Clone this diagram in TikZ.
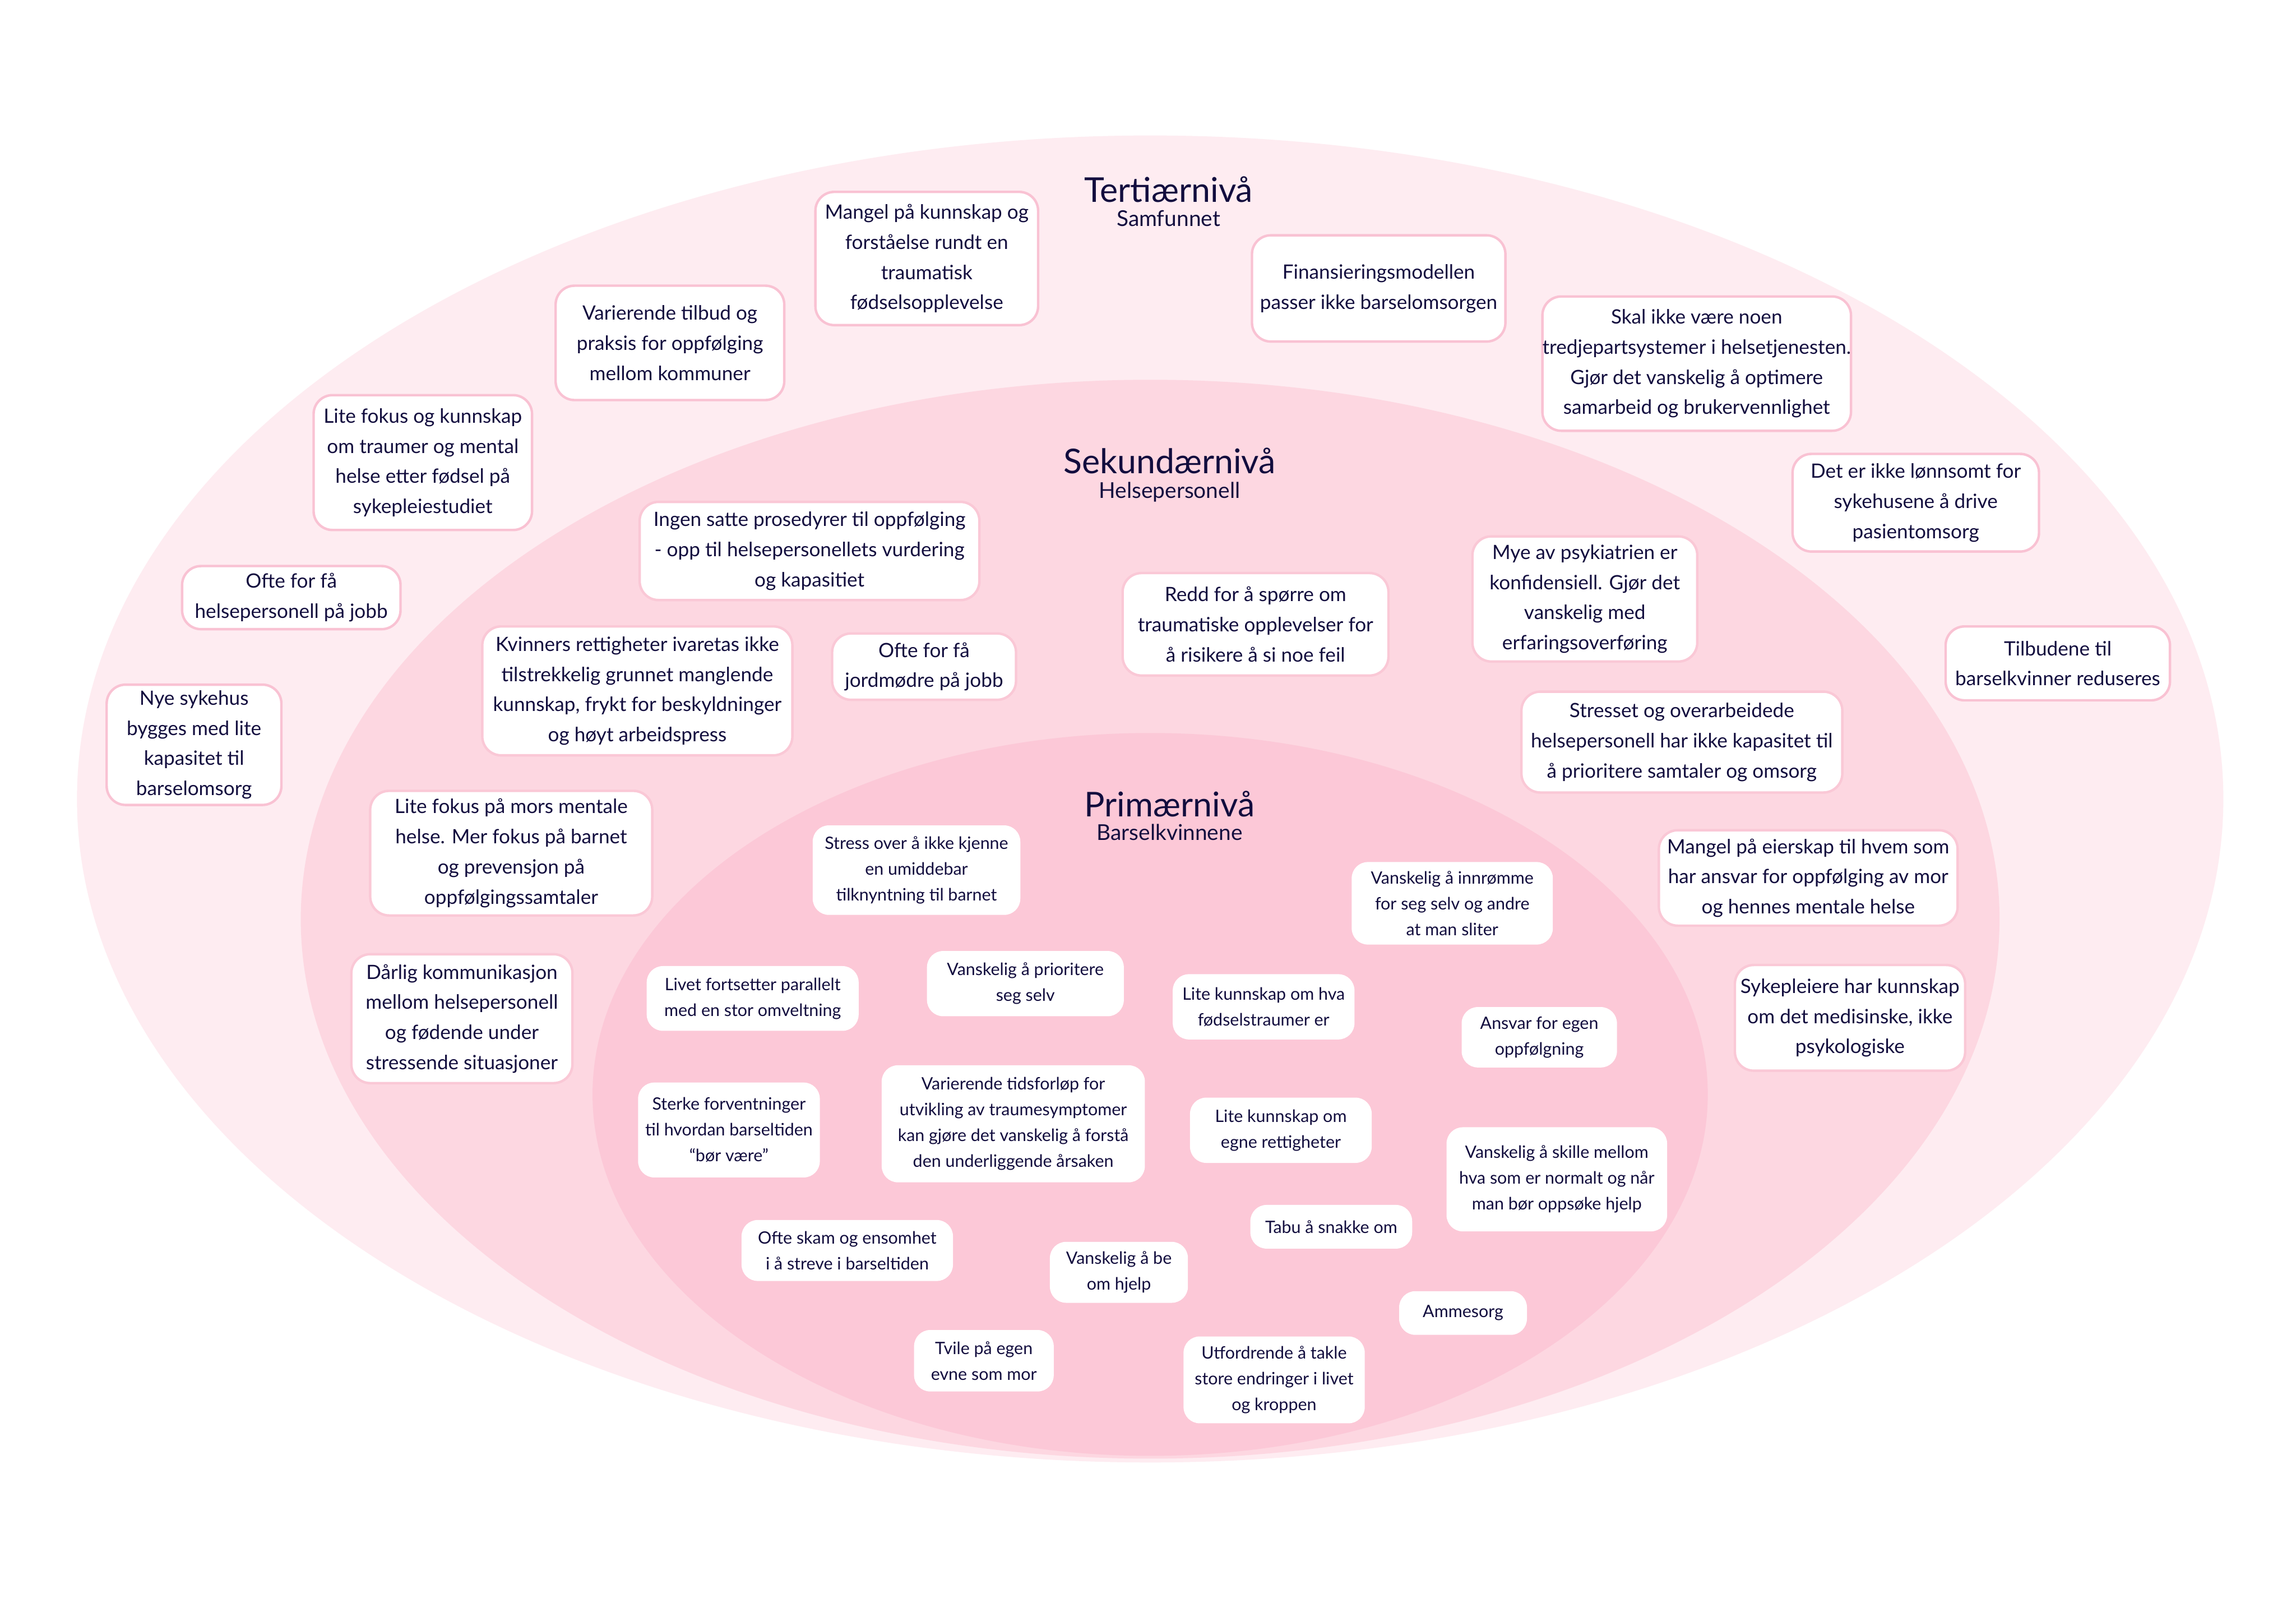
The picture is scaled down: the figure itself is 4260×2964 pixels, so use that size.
\documentclass[tikz,border=0pt]{standalone}
\usepackage{fontspec}
\setmainfont{Lato}
\definecolor{outerc}{RGB}{254,236,241}
\definecolor{secc}{RGB}{253,215,225}
\definecolor{primc}{RGB}{252,200,215}
\definecolor{navy}{RGB}{18,13,62}
\definecolor{tborder}{RGB}{249,194,211}
\definecolor{sborder}{RGB}{250,200,214}
\begin{document}
\begin{tikzpicture}[x=0.01cm,y=-0.01cm,
  tert/.style={draw=tborder, line width=1.3pt, fill=white, rounded corners=0.35cm, align=center, inner sep=0pt, text=navy, font=\fontsize{10.4}{15.9}\selectfont},
  secb/.style={tert, draw=sborder},
  prim/.style={fill=white, rounded corners=0.3cm, align=center, inner sep=0pt, text=navy, font=\fontsize{9}{13.6}\selectfont},
  lvl/.style={text=navy, anchor=base, font=\fontsize{18}{20}\selectfont},
  sublvl/.style={text=navy, anchor=base, font=\fontsize{11.5}{13}\selectfont}]
\useasboundingbox (0,0) rectangle (4260,2964);
\fill[white] (0,0) rectangle (4260,2964);
% level ellipses
\fill[outerc] (2134,1482) ellipse [x radius=19.90cm, y radius=12.30cm];
\fill[secc] (2134,1705) ellipse [x radius=15.75cm, y radius=10.00cm];
\fill[primc] (2134,2030) ellipse [x radius=10.34cm, y radius=6.70cm];
% headings
\node[lvl] (h3) at (2168,375) {Tertiærnivå};
\node[sublvl] (h3s) at (2168,420) {Samfunnet};
\node[lvl] (h2) at (2170,878) {Sekundærnivå};
\node[sublvl] (h2s) at (2170,924) {Helsepersonell};
\node[lvl] (h1) at (2170,1515) {Primærnivå};
\node[sublvl] (h1s) at (2170,1559) {Barselkvinnene};
% tertiary
\node[tert, minimum width=4.24cm, minimum height=2.12cm] (t1) at (1243,636) {Varierende tilbud og\\praksis for oppfølging\\mellom kommuner};
\node[tert, minimum width=4.13cm, minimum height=2.47cm] (t2) at (1719.5,479.5) {Mangel på kunnskap og\\forståelse rundt en\\traumatisk\\fødselsopplevelse};
\node[tert, minimum width=4.70cm, minimum height=1.97cm] (t3) at (2558,535) {Finansieringsmodellen\\passer ikke barselomsorgen};
\node[tert, minimum width=5.72cm, minimum height=2.49cm] (t4) at (3148,674.5) {Skal ikke være noen\\tredjepartsystemer i helsetjenesten.\\Gjør det vanskelig å optimere\\samarbeid og brukervennlighet};
\node[tert, minimum width=4.05cm, minimum height=2.50cm] (t5) at (784.5,858) {Lite fokus og kunnskap\\om traumer og mental\\helse etter fødsel på\\sykepleiestudiet};
\node[tert, minimum width=4.57cm, minimum height=1.81cm] (t6) at (3554.5,932.5) {Det er ikke lønnsomt for\\sykehusene å drive\\pasientomsorg};
\node[tert, minimum width=4.05cm, minimum height=1.17cm] (t7) at (540.5,1108.5) {Ofte for få\\helsepersonell på jobb};
\node[tert, minimum width=4.16cm, minimum height=1.37cm] (t8) at (3818,1230.5) {Tilbudene til\\barselkvinner reduseres};
\node[tert, minimum width=3.24cm, minimum height=2.23cm] (t9) at (360,1381.5) {Nye sykehus\\bygges med lite\\kapasitet til\\barselomsorg};
% secondary
\node[secb, minimum width=6.30cm, minimum height=1.82cm] (s1) at (1502,1022) {Ingen satte prosedyrer til oppfølging\\- opp til helsepersonellets vurdering\\og kapasitiet};
\node[secb, minimum width=5.75cm, minimum height=2.39cm] (s2) at (1182.5,1281.5) {Kvinners rettigheter ivaretas ikke\\tilstrekkelig grunnet manglende\\kunnskap, frykt for beskyldninger\\og høyt arbeidspress};
\node[secb, minimum width=3.41cm, minimum height=1.23cm] (s3) at (1714.5,1236.5) {Ofte for få\\jordmødre på jobb};
\node[secb, minimum width=4.93cm, minimum height=1.90cm] (s4) at (2329.5,1158) {Redd for å spørre om\\traumatiske opplevelser for\\å risikere å si noe feil};
\node[secb, minimum width=4.17cm, minimum height=2.32cm] (s5) at (2940.5,1111) {Mye av psykiatrien er\\konfidensiell. Gjør det\\vanskelig med\\erfaringsoverføring};
\node[secb, minimum width=5.95cm, minimum height=1.87cm] (s6) at (3120.5,1376.5) {Stresset og overarbeidede\\helsepersonell har ikke kapasitet til\\å prioritere samtaler og omsorg};
\node[secb, minimum width=5.23cm, minimum height=2.31cm] (s7) at (948.5,1582.5) {Lite fokus på mors mentale\\helse. Mer fokus på barnet\\og prevensjon på\\oppfølgingssamtaler};
\node[secb, minimum width=5.54cm, minimum height=1.77cm] (s8) at (3355,1628.5) {Mangel på eierskap til hvem som\\har ansvar for oppfølging av mor\\og hennes mentale helse};
\node[secb, minimum width=4.27cm, minimum height=1.96cm] (s9) at (3432.5,1888) {Sykepleiere har kunnskap\\om det medisinske, ikke\\psykologiske};
\node[secb, minimum width=4.10cm, minimum height=2.39cm] (s10) at (857,1889.5) {Dårlig kommunikasjon\\mellom helsepersonell\\og fødende under\\stressende situasjoner};
% primary
\node[prim, minimum width=3.85cm, minimum height=1.66cm] (p1) at (1700.5,1614) {Stress over å ikke kjenne\\en umiddebar\\tilknyntning til barnet};
\node[prim, minimum width=3.73cm, minimum height=1.53cm] (p2) at (2694.5,1675.5) {Vanskelig å innrømme\\for seg selv og andre\\at man sliter};
\node[prim, minimum width=3.93cm, minimum height=1.20cm] (p3) at (1396.5,1852) {Livet fortsetter parallelt\\med en stor omveltning};
\node[prim, minimum width=3.65cm, minimum height=1.21cm] (p4) at (1902.5,1824.5) {Vanskelig å prioritere\\seg selv};
\node[prim, minimum width=3.37cm, minimum height=1.21cm] (p5) at (2344.5,1867.5) {Lite kunnskap om hva\\fødselstraumer er};
\node[prim, minimum width=2.88cm, minimum height=1.12cm] (p6) at (2856,1924) {Ansvar for egen\\oppfølgning};
\node[prim, minimum width=3.37cm, minimum height=1.76cm] (p7) at (1352.5,2096) {Sterke forventninger\\til hvordan barseltiden\\“bør være”};
\node[prim, minimum width=4.88cm, minimum height=2.17cm] (p8) at (1880,2084.5) {Varierende tidsforløp for\\utvikling av traumesymptomer\\kan gjøre det vanskelig å forstå\\den underliggende årsaken};
\node[prim, minimum width=3.37cm, minimum height=1.21cm] (p9) at (2376.5,2096.5) {Lite kunnskap om\\egne rettigheter};
\node[prim, minimum width=4.09cm, minimum height=1.93cm] (p10) at (2888.5,2187.5) {Vanskelig å skille mellom\\hva som er normalt og når\\man bør oppsøke hjelp};
\node[prim, minimum width=3.00cm, minimum height=0.81cm] (p11) at (2470,2275.5) {Tabu å snakke om};
\node[prim, minimum width=3.92cm, minimum height=1.13cm] (p12) at (1572,2319.5) {Ofte skam og ensomhet\\i å streve i barseltiden};
\node[prim, minimum width=2.56cm, minimum height=1.13cm] (p13) at (2076,2360) {Vanskelig å be\\om hjelp};
\node[prim, minimum width=2.37cm, minimum height=0.81cm] (p14) at (2714.5,2435.5) {Ammesorg};
\node[prim, minimum width=2.59cm, minimum height=1.14cm] (p15) at (1825.5,2524) {Tvile på egen\\evne som mor};
\node[prim, minimum width=3.36cm, minimum height=1.61cm] (p16) at (2364,2559.5) {Utfordrende å takle\\store endringer i livet\\og kroppen};
\end{tikzpicture}
\end{document}
